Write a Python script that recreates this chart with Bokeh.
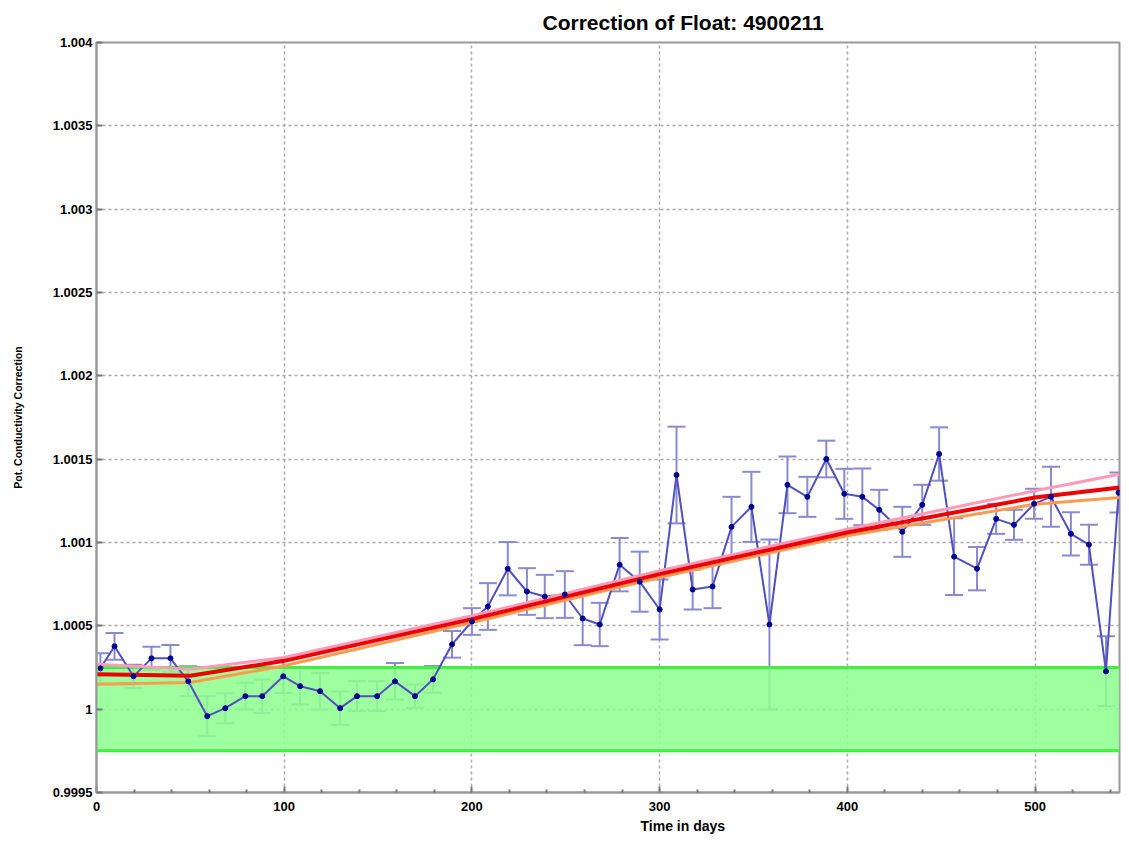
from bokeh.plotting import figure
from bokeh.models import FixedTicker, Whisker, ColumnDataSource, Title, Range1d, TeeHead
from bokeh.embed import file_html
from bokeh.resources import INLINE

# ---------------- data ----------------
days = [2.1, 9.6, 19.7, 29.3, 39.4, 48.9, 59.0, 68.6, 79.3, 88.3,
        99.5, 108.5, 119.1, 129.8, 138.8, 149.5, 159.0, 169.7, 179.3, 189.4,
        200.0, 208.5, 219.1, 229.3, 238.8, 249.5, 259.0, 268.1, 278.7, 289.4,
        300.0, 309.0, 317.6, 328.2, 338.3, 348.9, 358.5, 368.1, 378.7, 388.8,
        398.4, 408.0, 417.0, 429.3, 439.9, 448.9, 456.9, 469.1, 479.3, 488.8,
        499.5, 508.5, 519.1, 528.7, 537.8, 544.5]
corr = [1.000245, 1.000377, 1.000197, 1.000305, 1.000305, 1.000167, 0.999958, 1.000006, 1.000078, 1.000078,
        1.000197, 1.000138, 1.000108, 1.000006, 1.000078, 1.000078, 1.000167, 1.000078, 1.000179, 1.000389,
        1.000526, 1.000616, 1.000843, 1.000706, 1.000676, 1.000688, 1.000544, 1.000508, 1.000867, 1.000765,
        1.000598, 1.001405, 1.000718, 1.000736, 1.001094, 1.001214, 1.000508, 1.001346, 1.001274, 1.001501,
        1.001292, 1.001274, 1.001196, 1.001064, 1.001226, 1.001531, 1.000915, 1.000843, 1.001142, 1.001106,
        1.001232, 1.001274, 1.001052, 1.000987, 1.000227, 1.001300]
corr_err = [0.00009, 0.00008, 0.00007, 0.00007, 0.00008, 0.00009, 0.00012, 0.00009, 0.00008, 0.00010,
            0.00010, 0.00011, 0.00011, 0.00010, 0.00009, 0.00009, 0.00011, 0.00007, 0.00008, 0.00008,
            0.00008, 0.00014, 0.00016, 0.00014, 0.00013, 0.00014, 0.00016, 0.00013, 0.00016, 0.00018,
            0.00018, 0.00029, 0.00012, 0.00013, 0.00018, 0.00021, 0.00051, 0.00017, 0.00012, 0.00011,
            0.00015, 0.00017, 0.00012, 0.00015, 0.00012, 0.00016, 0.00023, 0.00013, 0.00009, 0.00009,
            0.00009, 0.00018, 0.00013, 0.00012, 0.00021, 0.00012]

fit_days = [0, 50, 100, 200, 300, 400, 500, 545]
fit_mid = [1.00021, 1.00020, 1.00029, 1.00054, 1.00081, 1.00106, 1.00127, 1.00133]
fit_upper = [1.00027, 1.00024, 1.00031, 1.00056, 1.00083, 1.00108, 1.00131, 1.00141]
fit_lower = [1.00015, 1.00016, 1.00026, 1.00052, 1.00079, 1.00104, 1.00123, 1.00127]

band_days = [0, 545]
band_low = [0.99975, 0.99975]
band_high = [1.00025, 1.00025]

x_ticks = [0, 100, 200, 300, 400, 500]
x_minor = [20, 40, 60, 80, 120, 140, 160, 180, 220, 240, 260, 280, 320, 340, 360, 380,
           420, 440, 460, 480, 520, 540]
y_ticks = [0.9995, 1.0, 1.0005, 1.001, 1.0015, 1.002, 1.0025, 1.003, 1.0035, 1.004]
y_tick_labels = ["0.9995", "1", "1.0005", "1.001", "1.0015", "1.002", "1.0025", "1.003", "1.0035", "1.004"]

title_text = "Correction of Float: 4900211"
x_label = "Time in days"
y_label = "Pot. Conductivity Correction"

FONT = "Liberation Sans"

p = figure(width=1121, height=836, output_backend="svg", toolbar_location=None,
           x_range=Range1d(0, 545), y_range=Range1d(0.9995, 1.004),
           min_border_left=96, min_border_right=2, min_border_top=42, min_border_bottom=41,
           title=None)
p.background_fill_color = "white"
p.border_fill_color = "white"
p.outline_line_color = "#999999"
p.outline_line_width = 2

# title (offset so it sits where the reference puts it)
p.add_layout(Title(text=title_text, align="left", offset=446, text_font=FONT,
                   text_font_size="21px", text_font_style="bold", text_color="black",
                   vertical_align="top", standoff=14), "above")
p.add_layout(Title(text=x_label, align="left", offset=544, text_font=FONT,
                   text_font_size="14px", text_font_style="bold", text_color="black",
                   standoff=5), "below")

# axes
p.xaxis.ticker = FixedTicker(ticks=x_ticks, minor_ticks=x_minor)
p.yaxis.ticker = FixedTicker(ticks=y_ticks)
p.yaxis.major_label_overrides = {t: l for t, l in zip(y_ticks, y_tick_labels)}
for ax in (p.xaxis[0], p.yaxis[0]):
    ax.axis_line_color = "#999999"
    ax.axis_line_width = 2
    ax.major_tick_in = 6
    ax.major_tick_out = 0
    ax.minor_tick_in = 3
    ax.minor_tick_out = 0
    ax.major_tick_line_color = "#777777"
    ax.minor_tick_line_color = "#777777"
    ax.major_tick_line_width = 2
    ax.minor_tick_line_width = 2
    ax.major_label_text_font = FONT
    ax.major_label_text_font_size = "13px"
    ax.major_label_text_font_style = "bold"
    ax.major_label_text_color = "black"
p.yaxis.minor_tick_line_color = None
p.xaxis.major_label_standoff = 9
p.yaxis.major_label_standoff = 4
p.yaxis.axis_label = y_label
p.yaxis.axis_label_text_font = FONT
p.yaxis.axis_label_text_font_size = "10.5px"
p.yaxis.axis_label_text_font_style = "bold"
p.yaxis.axis_label_text_color = "black"
p.yaxis.axis_label_standoff = 26

# grid
p.grid.grid_line_color = "#aaaaaa"
p.grid.grid_line_dash = "3 3"
p.grid.grid_line_width = 1.5

# green tolerance band
p.varea(x=band_days, y1=band_low, y2=band_high, fill_color="#8cff8c", fill_alpha=0.85)
p.line(band_days, band_low, line_color="#44ee44", line_width=3)
p.line(band_days, band_high, line_color="#44ee44", line_width=3)

# data: error bars, line, markers
lower = [c - e for c, e in zip(corr, corr_err)]
upper = [c + e for c, e in zip(corr, corr_err)]
src = ColumnDataSource(dict(x=days, y=corr, lo=lower, hi=upper))
p.add_layout(Whisker(source=src, base="x", lower="lo", upper="hi",
                     line_color="#8a8ad0", line_width=2,
                     upper_head=TeeHead(size=18, line_color="#8a8ad0", line_width=2),
                     lower_head=TeeHead(size=18, line_color="#8a8ad0", line_width=2)))
p.line("x", "y", source=src, line_color="#5050c0", line_width=2)

# fit lines
p.line(fit_days, fit_lower, line_color="#ff9a50", line_width=3)
p.line(fit_days, fit_upper, line_color="#ff9ab8", line_width=3)
p.line(fit_days, fit_mid, line_color="#ee0000", line_width=4)

p.scatter("x", "y", source=src, size=5, marker="circle", fill_color="#000090", line_color="#000090")

open("out.html", "w").write(file_html(p, INLINE))
